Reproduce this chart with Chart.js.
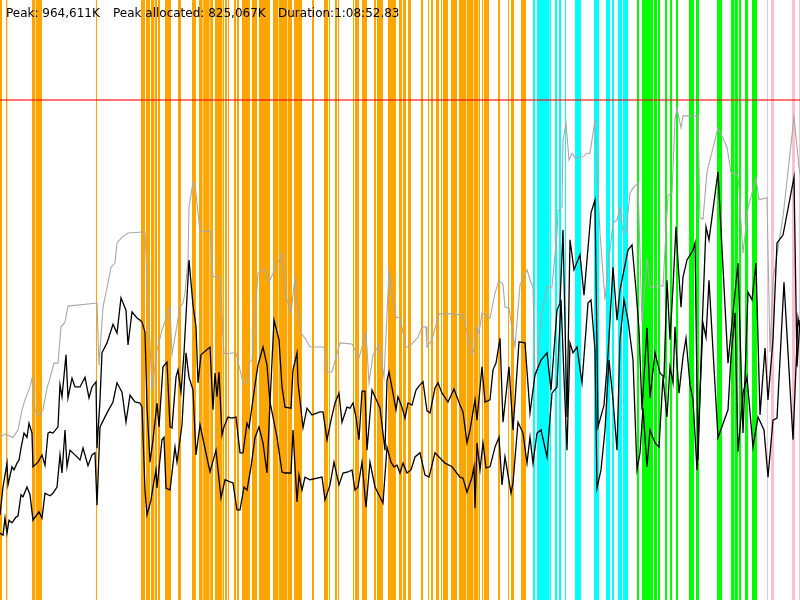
<!DOCTYPE html>
<html>
<head>
<meta charset="utf-8">
<script src="https://cdn.jsdelivr.net/npm/chart.js@4.4.1/dist/chart.umd.min.js"></script>
<style>
  body { margin: 0; background: #fff; }
  #wrap { position: relative; width: 800px; height: 600px; }
  #info span { position: absolute; top: 6px; font: 12px 'DejaVu Sans', sans-serif; color: #000; white-space: pre; }
</style>
</head>
<body>
<div id="wrap">
  <canvas id="chartCanvas" width="800" height="600"></canvas>
  <div id="info">
    <span style="left:6px">Peak: 964,611K</span>
    <span style="left:113px">Peak allocated: 825,067K</span>
    <span style="left:278px">Duration:1:08:52.83</span>
  </div>
</div>
<script>
// run timeline runs 0..800 (sample ticks), memory in MB (thousands of K)
const runStart = 0;
const runEnd = 800;
const peakMB = 964.611;

// heap size (grey)
const heapTime = [0,5,13,18,22,25,30,32,35,38,43,47,50,54,58,61,65,68,97,99,103,107,111,115,117,122,128,143,145,148,152,157,162,170,172,180,183,185,188,189,193,195,200,210,213,218,220,224,236,243,247,249,252,258,265,269,282,285,291,295,298,301,305,310,320,324,327,332,340,352,359,362,366,369,373,379,384,389,396,400,406,409,418,422,426,427,432,439,452,463,472,475,477,479,482,490,495,499,503,505,509,515,520,527,531,533,535,537,541,547,552,557,558,562,563,566,569,572,575,583,587,590,595,597,600,605,608,613,617,620,623,626,630,633,638,642,647,650,655,663,668,672,675,677,681,683,698,700,703,707,718,727,731,738,743,748,756,759,767,770,773,783,794,799,800];
const heapSize = [314,320,314,328,367,386,411,428,367,355,367,409,428,457,457,527,536,567,573,453,565,602,642,650,689,700,708,710,710,579,405,482,521,565,473,565,573,592,656,758,806,801,710,712,623,625,621,475,477,419,419,457,463,631,637,613,669,592,554,621,559,515,505,488,488,488,440,440,496,494,467,488,515,419,473,492,430,633,546,544,488,488,507,527,527,488,502,552,552,550,473,488,527,515,554,544,592,617,608,565,563,488,608,637,612,604,434,438,546,604,604,708,752,758,887,920,849,862,853,855,862,862,926,835,708,579,642,727,733,758,710,710,785,795,804,534,660,602,606,606,781,785,926,949,911,934,934,737,735,826,911,874,824,820,669,756,814,772,776,478,617,739,932,835,820];

// allocated (upper black)
const allocTime = [0,3,7,8,12,14,17,19,21,24,27,29,32,33,38,42,45,48,50,53,58,60,62,66,68,72,75,80,85,89,92,96,97,100,102,107,113,117,121,126,128,132,137,140,142,145,147,150,153,157,159,163,167,170,172,176,178,181,184,189,193,196,198,201,210,213,215,217,219,222,224,228,232,236,240,243,247,249,255,258,263,267,270,274,279,282,285,291,293,297,298,301,303,307,312,320,323,327,331,335,339,342,347,350,353,356,359,362,365,367,372,375,380,385,387,389,393,396,398,402,405,408,412,416,420,423,427,430,435,438,442,448,454,460,463,467,470,475,477,482,485,490,493,496,500,503,509,513,519,525,530,535,541,547,551,557,560,563,567,570,574,580,584,591,595,598,604,608,613,617,620,624,628,632,636,639,642,647,650,655,660,664,667,670,673,676,678,681,683,687,693,695,698,702,706,709,718,728,733,738,743,748,752,756,760,765,768,773,777,783,794,797,800];
const allocated = [164,218,264,222,257,251,264,270,293,322,314,341,322,257,266,280,260,322,324,322,334,415,392,473,390,428,411,411,430,390,411,421,293,386,477,496,532,515,583,559,492,556,544,540,536,517,372,266,309,380,334,450,459,334,332,430,444,401,477,656,569,527,419,473,488,367,438,392,440,318,334,353,351,353,284,284,341,332,415,453,488,453,380,540,502,411,372,370,444,477,419,367,332,370,357,363,363,309,347,380,399,343,372,370,380,353,309,403,403,289,405,392,370,289,424,440,399,367,392,372,351,380,376,405,415,421,365,361,409,419,399,382,407,376,363,303,328,386,347,450,382,386,444,457,505,343,450,328,498,496,361,434,463,477,405,559,573,714,353,695,637,666,588,747,772,334,376,473,642,540,598,637,675,685,598,521,367,525,390,477,438,430,617,502,604,720,652,565,623,656,675,689,270,521,720,695,826,457,554,650,322,594,579,650,357,486,386,502,689,704,816,450,540];

// live (lower black)
const liveTime = [0,3,5,7,9,12,16,18,21,23,27,30,33,39,42,45,50,53,57,60,62,65,67,70,75,80,83,88,92,95,97,100,107,113,117,122,126,130,135,140,142,145,147,151,153,156,157,162,164,166,170,175,177,182,186,189,193,196,200,210,216,218,221,225,230,233,237,240,244,247,251,255,259,263,267,270,277,282,285,291,293,297,299,302,305,310,322,325,330,334,339,343,348,352,355,358,362,366,370,375,383,387,391,394,397,400,403,407,411,415,420,425,429,435,440,445,452,460,463,467,472,474,475,477,480,483,486,490,495,499,502,505,511,513,518,523,527,530,533,537,541,547,552,557,561,564,567,570,573,577,582,588,591,595,597,601,605,609,613,617,620,624,628,633,637,640,643,647,650,655,659,663,667,670,673,675,677,679,683,686,690,693,697,700,703,706,709,718,728,731,735,738,743,747,753,758,764,768,773,777,784,793,798,800];
const live = [129,125,158,129,154,149,160,162,203,199,218,203,154,170,158,206,201,206,218,280,245,328,257,289,280,270,293,259,280,284,183,334,361,382,419,401,343,395,382,380,372,212,164,193,218,251,216,309,314,216,212,295,266,338,477,430,405,280,338,247,289,251,197,232,228,226,174,174,218,212,257,313,334,303,245,382,314,247,245,245,328,189,241,212,237,232,237,193,222,266,222,245,247,251,212,218,266,179,266,218,187,295,266,257,260,245,264,245,251,276,284,241,237,284,274,264,257,237,235,208,237,257,177,303,251,303,255,257,295,314,222,276,206,226,343,322,264,314,264,322,328,276,399,411,579,430,289,496,477,488,419,573,579,482,216,251,328,463,386,289,502,579,540,463,251,284,370,257,328,303,295,430,353,450,419,527,457,399,469,505,415,386,251,399,534,507,617,313,367,469,554,286,399,430,295,353,328,237,347,351,613,309,544,521];

// collection bands [start, end] on the same timeline
const orangeBands = [[0,2],[6,7.3],[32,35],[35.6,42],[96,97],[141,145],[146,150],[151,154],[154.6,157],[158,160],[165,171],[178,181],[192,196],[199,202.6],[203.2,209.6],[210.2,213],[215,222],[222.5,224],[225,227],[228,229],[234,236],[237,239],[242,250],[252,257],[259,270],[273,278],[278.6,287],[287.6,292],[294,302],[312,314],[324,328],[329,330],[335,337],[338,339],[353,354],[355,359],[362,367],[374,376],[377,383],[388,396],[399,402],[403,406],[408,411],[421,423],[428,429],[431,433],[436,439],[441,442],[443,448],[451,457],[459,466],[466.6,473],[473.6,478],[478.6,480],[482,483],[484,489],[498,500],[508,509],[511,514],[521,526]];
const cyanBands = [[533,535],[537,549],[549.5,551],[555,557],[559,561],[565,566],[575,581],[594,599],[606,610],[612,614],[618,622],[623,628]];
const greenBands = [[637,639],[642,653],[654,657],[658,660],[665,667],[670,672],[676,678],[689,694],[696,699],[717,722],[731,734],[734.5,738],[739,741],[745,748],[752,757]];
const pinkBands = [[767,768],[771,774],[792,795],[799,800]];

function points(xs, ys) {
    return xs.map((x, i) => ({ x: x, y: ys[i] }));
}

const bandLayers = [
    { bands: orangeBands, color: '#ffa500' },
    { bands: cyanBands, color: '#00ffff' },
    { bands: greenBands, color: '#00ff00' },
    { bands: pinkBands, color: '#ffc0cb' }
];

// draws the vertical bands behind the lines
const bandPlugin = {
    id: 'gcBands',
    beforeDatasetsDraw(chart) {
        const { ctx, chartArea, scales } = chart;
        ctx.save();
        bandLayers.forEach(layer => {
            ctx.fillStyle = layer.color;
            layer.bands.forEach(b => {
                const x0 = scales.x.getPixelForValue(b[0]);
                const x1 = scales.x.getPixelForValue(b[1]);
                ctx.fillRect(x0, chartArea.top, x1 - x0, chartArea.bottom - chartArea.top);
            });
        });
        ctx.restore();
    }
};

const ctx = document.getElementById('chartCanvas').getContext('2d');

let chart = new Chart(ctx, {
    type: 'line',
    data: {
        datasets: [
            {
                label: 'Peak',
                data: points([runStart, runEnd], [peakMB, peakMB]),
                borderColor: 'rgba(255,0,0,0.55)',
                borderWidth: 2,
                order: 3
            },
            {
                label: 'Heap size',
                data: points(heapTime, heapSize),
                borderColor: '#a8a8a8',
                borderWidth: 1.1,
                order: 2
            },
            {
                label: 'Allocated',
                data: points(allocTime, allocated),
                borderColor: '#000',
                borderWidth: 1.3,
                order: 1
            },
            {
                label: 'Live',
                data: points(liveTime, live),
                borderColor: '#000',
                borderWidth: 1.3,
                order: 0
            }
        ]
    },
    options: {
        responsive: false,
        animation: false,
        devicePixelRatio: 1,
        layout: { padding: 0 },
        elements: {
            point: { radius: 0 },
            line: { tension: 0, fill: false }
        },
        scales: {
            x: { type: 'linear', min: runStart, max: runEnd, display: false },
            y: { min: 0, max: peakMB * 1.2, display: false }
        },
        plugins: {
            legend: { display: false },
            tooltip: { enabled: false }
        }
    },
    plugins: [bandPlugin]
});
</script>
</body>
</html>
